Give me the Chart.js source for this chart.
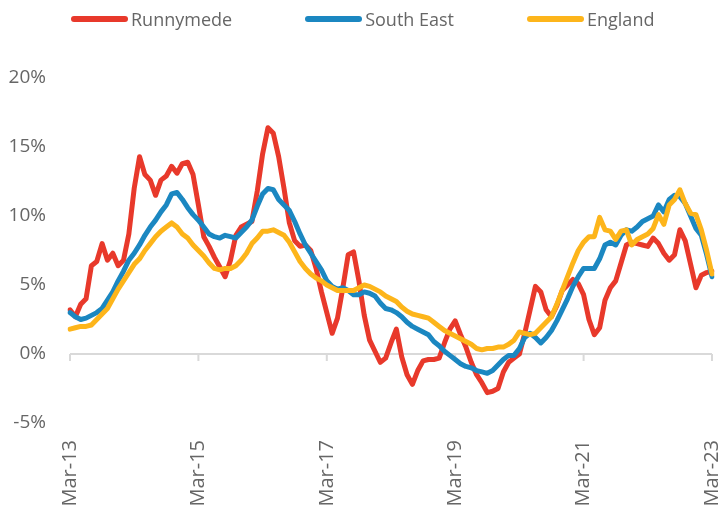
<!DOCTYPE html>
<html>
<head>
<meta charset="utf-8">
<script src="https://cdn.jsdelivr.net/npm/chart.js@4"></script>
<style>
    html, body { margin: 0; padding: 0; background: #fff; }
    #wrap { position: relative; width: 720px; height: 513px; }
    #legend {
        position: absolute; top: 7px; left: 71px;
        display: flex; align-items: center; white-space: nowrap;
        font-family: "Open Sans", sans-serif; font-size: 18px; color: #666;
    }
    .item { display: flex; align-items: center; margin-right: 73px; }
    .swatch { width: 57px; height: 6px; border-radius: 3px; margin-right: 3px; }
</style>
</head>
<body>
<div id="wrap">
    <canvas id="chart" width="720" height="513"></canvas>
    <div id="legend"></div>
</div>
<script>
// Annual change by month, Mar-13 to Mar-23
const monthNames = ['Jan', 'Feb', 'Mar', 'Apr', 'May', 'Jun', 'Jul', 'Aug', 'Sep', 'Oct', 'Nov', 'Dec'];
const categories = [];
for (let i = 0; i < 121; i++) {
    const m = (2 + i) % 12;
    const yr = 13 + Math.floor((2 + i) / 12);
    categories.push(monthNames[m] + '-' + yr);
}

const runnymede = [
    3.2, 2.7, 3.6, 4.0, 6.4, 6.7, 8.0, 6.8, 7.3, 6.4, 6.8, 8.7,
    12.0, 14.3, 13.0, 12.6, 11.5, 12.6, 12.9, 13.6, 13.1, 13.8, 13.9, 13.0,
    10.8, 8.5, 7.8, 7.0, 6.3, 5.6, 6.8, 8.6, 9.2, 9.4, 9.6, 11.8,
    14.5, 16.4, 16.0, 14.3, 12.0, 9.5, 8.2, 7.8, 7.9, 7.5, 6.2, 4.5,
    3.0, 1.5, 2.6, 4.8, 7.2, 7.4, 5.3, 2.8, 1.0, 0.2, -0.6, -0.3,
    0.8, 1.8, -0.2, -1.5, -2.2, -1.2, -0.5, -0.4, -0.4, -0.3, 0.8, 1.8,
    2.4, 1.4, 0.5, -0.6, -1.5, -2.1, -2.8, -2.7, -2.5, -1.3, -0.6, -0.3,
    0.0, 1.5, 3.2, 4.9, 4.5, 3.2, 2.7, 3.5, 4.6, 5.0, 5.4, 5.1,
    4.3, 2.5, 1.4, 1.9, 3.9, 4.8, 5.3, 6.6, 7.9, 8.1, 8.0, 7.9,
    7.8, 8.4, 8.0, 7.3, 6.8, 7.2, 9.0, 8.2, 6.5, 4.8, 5.7, 5.9,
    6.0
];
const southEast = [
    3.0, 2.7, 2.5, 2.6, 2.8, 3.0, 3.3, 3.9, 4.5, 5.3, 6.0, 6.8,
    7.3, 7.9, 8.6, 9.2, 9.7, 10.3, 10.8, 11.6, 11.7, 11.2, 10.6, 10.1,
    9.7, 9.2, 8.7, 8.5, 8.4, 8.6, 8.5, 8.4, 8.8, 9.2, 9.7, 10.7,
    11.6, 12.0, 11.9, 11.2, 10.8, 10.4, 9.6, 8.7, 7.9, 7.3, 6.7, 6.1,
    5.3, 4.9, 4.7, 4.8, 4.6, 4.3, 4.3, 4.5, 4.4, 4.2, 3.7, 3.3,
    3.2, 3.0, 2.7, 2.3, 2.0, 1.8, 1.6, 1.4, 0.9, 0.6, 0.2, -0.1,
    -0.4, -0.7, -0.9, -1.0, -1.2, -1.3, -1.4, -1.2, -0.8, -0.4, -0.1, -0.1,
    0.4, 1.2, 1.5, 1.2, 0.8, 1.2, 1.7, 2.4, 3.2, 4.0, 4.9, 5.6,
    6.2, 6.2, 6.2, 6.9, 7.9, 8.1, 7.9, 8.6, 9.0, 8.9, 9.2, 9.6,
    9.8, 10.0, 10.8, 10.3, 11.2, 11.5, 11.4, 10.9, 10.0, 9.1, 8.6, 7.2,
    5.6
];
const england = [
    1.8, 1.9, 2.0, 2.0, 2.1, 2.5, 2.9, 3.3, 4.0, 4.7, 5.3, 5.9,
    6.5, 6.9, 7.5, 8.0, 8.5, 8.9, 9.2, 9.5, 9.2, 8.7, 8.4, 7.9,
    7.5, 7.1, 6.6, 6.2, 6.1, 6.2, 6.2, 6.4, 6.8, 7.3, 8.0, 8.4,
    8.9, 8.9, 9.0, 8.8, 8.6, 8.1, 7.4, 6.7, 6.2, 5.8, 5.5, 5.3,
    5.0, 4.8, 4.6, 4.6, 4.6, 4.6, 4.8, 5.0, 4.9, 4.7, 4.5, 4.2,
    4.0, 3.8, 3.4, 3.1, 2.9, 2.8, 2.7, 2.6, 2.3, 2.0, 1.7, 1.5,
    1.3, 1.1, 0.9, 0.7, 0.4, 0.3, 0.4, 0.4, 0.5, 0.5, 0.7, 1.0,
    1.6, 1.5, 1.4, 1.5, 1.9, 2.3, 2.7, 3.6, 4.6, 5.6, 6.6, 7.5,
    8.1, 8.5, 8.5, 9.9, 9.0, 8.9, 8.3, 8.9, 9.0, 7.9, 8.3, 8.5,
    8.7, 9.1, 10.1, 9.4, 10.8, 11.2, 11.9, 10.9, 10.2, 10.1, 9.0, 7.5,
    5.8
];
const seriesNames = ['Runnymede', 'South East', 'England'];
const seriesColors = ['#E8392B', '#1B87C1', '#FDB51B'];
const yTicks = [-5, 0, 5, 10, 15, 20];
const labelEvery = 24;

// Legend (html)
const legend = document.getElementById('legend');
seriesNames.forEach((name, i) => {
    const item = document.createElement('div');
    item.className = 'item';
    const sw = document.createElement('span');
    sw.className = 'swatch';
    sw.style.background = seriesColors[i];
    const txt = document.createElement('span');
    txt.textContent = name;
    item.appendChild(sw);
    item.appendChild(txt);
    legend.appendChild(item);
});

// Zero line with small tick marks
const zeroAxis = {
    id: 'zeroAxis',
    beforeDatasetsDraw(chart) {
        const {ctx, chartArea, scales} = chart;
        const y0 = scales.y.getPixelForValue(0);
        ctx.save();
        ctx.strokeStyle = '#d9d9d9';
        ctx.lineWidth = 2;
        ctx.beginPath();
        ctx.moveTo(chartArea.left, y0);
        ctx.lineTo(chartArea.right, y0);
        for (let i = 0; i < categories.length; i += labelEvery) {
            const x = scales.x.getPixelForValue(i);
            ctx.moveTo(x, y0);
            ctx.lineTo(x, y0 + 7);
        }
        ctx.stroke();
        ctx.restore();
    }
};

Chart.defaults.font.family = '"Open Sans", sans-serif';
Chart.defaults.color = '#666';

const datasets = [runnymede, southEast, england].map((d, i) => ({
    label: seriesNames[i],
    data: d,
    borderColor: seriesColors[i],
    backgroundColor: seriesColors[i],
    borderWidth: 5,
    pointRadius: 0,
    borderJoinStyle: 'round',
    borderCapStyle: 'round',
    tension: 0,
    order: 3 - i
}));

const ctx = document.getElementById('chart').getContext('2d');
new Chart(ctx, {
    type: 'line',
    data: { labels: categories, datasets: datasets },
    options: {
        responsive: false,
        animation: false,
        layout: { padding: { top: 78, left: 8, right: 8, bottom: 0 } },
        plugins: { legend: { display: false }, tooltip: { enabled: false } },
        scales: {
            x: {
                grid: { display: false, drawTicks: false },
                border: { display: false },
                afterFit(s) { s.paddingLeft = 0; s.paddingRight = 0; s.height = 90; },
                ticks: {
                    autoSkip: false,
                    minRotation: 90,
                    maxRotation: 90,
                    padding: 17,
                    font: { size: 20 },
                    callback(v, i) { return i % labelEvery === 0 ? categories[i] : null; }
                }
            },
            y: {
                min: yTicks[0],
                max: yTicks[yTicks.length - 1],
                grid: { display: false, drawTicks: false },
                border: { display: false },
                afterFit(s) { s.width = 62; },
                afterBuildTicks(s) { s.ticks = yTicks.map(v => ({ value: v })); },
                ticks: {
                    padding: 24,
                    font: { size: 19 },
                    callback: v => v + '%'
                }
            }
        }
    },
    plugins: [zeroAxis]
});
</script>
</body>
</html>
